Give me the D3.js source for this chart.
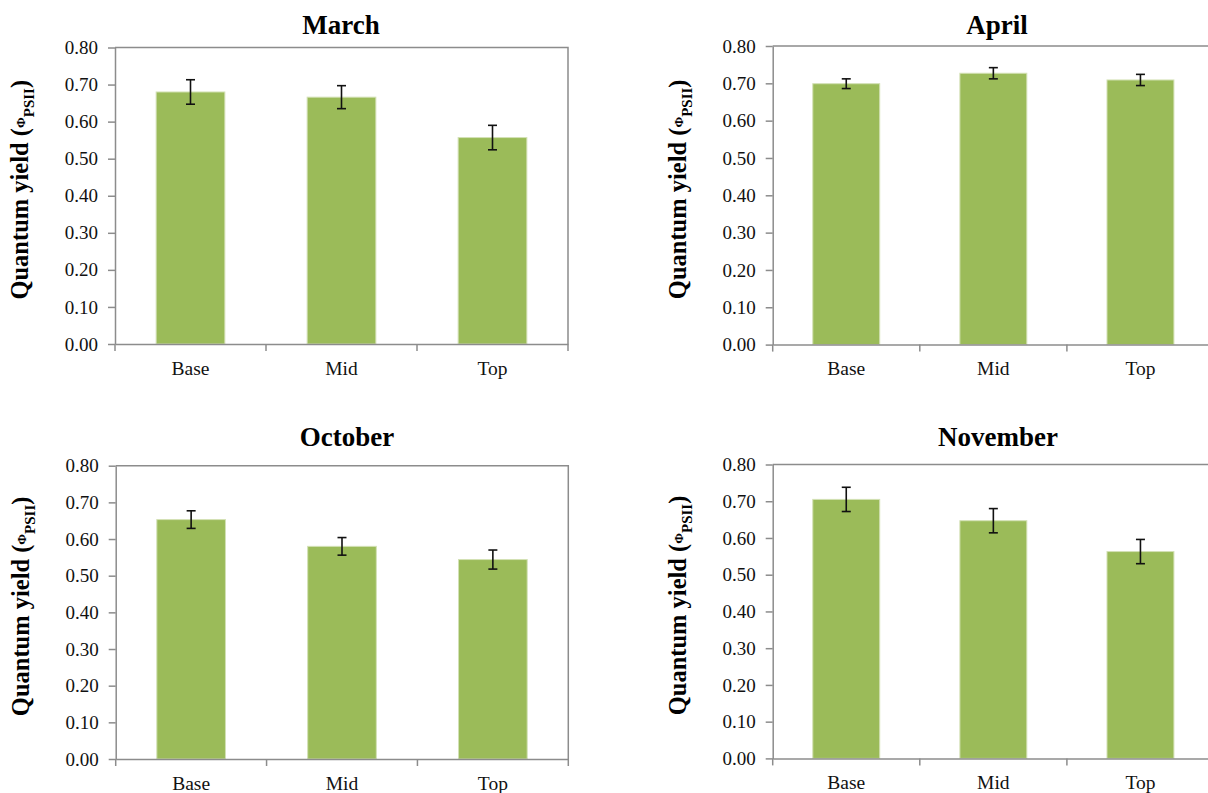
<!DOCTYPE html>
<html>
<head>
<meta charset="utf-8">
<script src="https://cdn.jsdelivr.net/npm/d3@7"></script>
<style>
  html, body { margin: 0; padding: 0; background: #ffffff; }
  svg { display: block; }
  text { font-family: "Liberation Serif", "Times New Roman", serif; }
</style>
</head>
<body>
<svg id="chart" width="1208" height="793"></svg>
<script>
// Canopy positions and monthly quantum yield (mean ± SE)
const categories = ["Base", "Mid", "Top"];
const months = ["March", "April", "October", "November"];

const marchMeans = [0.680, 0.666, 0.557];
const marchErrors = [0.033, 0.031, 0.033];

const aprilMeans = [0.699, 0.727, 0.709];
const aprilErrors = [0.013, 0.015, 0.015];

const octoberMeans = [0.653, 0.580, 0.544];
const octoberErrors = [0.024, 0.024, 0.026];

const novemberMeans = [0.705, 0.647, 0.563];
const novemberErrors = [0.033, 0.033, 0.033];

const yTicks = [0.0, 0.1, 0.2, 0.3, 0.4, 0.5, 0.6, 0.7, 0.8];

const seriesMeans = [marchMeans, aprilMeans, octoberMeans, novemberMeans];
const seriesErrors = [marchErrors, aprilErrors, octoberErrors, novemberErrors];

// Panel plot-area frames (pixels)
const frames = [
  { left: 115,   right: 568,  top: 47.5,  bottom: 344,   titleX: 341, titleY: 34 },
  { left: 772.7, right: 1214, top: 46,    bottom: 344.6, titleX: 997, titleY: 34 },
  { left: 115.7, right: 568.3, top: 465.7, bottom: 759,  titleX: 347, titleY: 446 },
  { left: 772.7, right: 1214, top: 464.5, bottom: 758.4, titleX: 998, titleY: 446 }
];

const serif = "'Liberation Serif', 'Times New Roman', serif";
const barColor = "#9bbb59";
const axisColor = "#8c8c8c";
const svg = d3.select("#chart");

months.forEach((month, i) => {
  const f = frames[i];
  const means = seriesMeans[i];
  const errs = seriesErrors[i];
  const rows = categories.map((c, k) => ({ cat: c, mean: means[k], err: errs[k] }));

  const x = d3.scaleBand().domain(categories).range([f.left, f.right]).padding(0);
  const y = d3.scaleLinear().domain([0, 0.8]).range([f.bottom, f.top]);
  const g = svg.append("g");

  // plot-area border (top and right)
  g.append("path")
    .attr("d", `M${f.left},${f.top}H${f.right}V${f.bottom}`)
    .attr("fill", "none").attr("stroke", axisColor).attr("stroke-width", 1.5);

  // bars
  const barW = x.bandwidth() * 0.455;
  g.selectAll("rect.bar").data(rows).join("rect")
    .attr("class", "bar")
    .attr("x", d => x(d.cat) + (x.bandwidth() - barW) / 2)
    .attr("width", barW)
    .attr("y", d => y(d.mean))
    .attr("height", d => y(0) - y(d.mean))
    .attr("fill", barColor)
    .attr("stroke", "#d3e1b5").attr("stroke-width", 1);

  // error bars
  const cap = 4.5;
  const eb = g.selectAll("g.err").data(rows).join("g").attr("class", "err")
    .attr("stroke", "#111").attr("stroke-width", 1.6);
  eb.append("line")
    .attr("x1", d => x(d.cat) + x.bandwidth() / 2).attr("x2", d => x(d.cat) + x.bandwidth() / 2)
    .attr("y1", d => y(d.mean + d.err)).attr("y2", d => y(d.mean - d.err));
  eb.append("line")
    .attr("x1", d => x(d.cat) + x.bandwidth() / 2 - cap).attr("x2", d => x(d.cat) + x.bandwidth() / 2 + cap)
    .attr("y1", d => y(d.mean + d.err)).attr("y2", d => y(d.mean + d.err));
  eb.append("line")
    .attr("x1", d => x(d.cat) + x.bandwidth() / 2 - cap).attr("x2", d => x(d.cat) + x.bandwidth() / 2 + cap)
    .attr("y1", d => y(d.mean - d.err)).attr("y2", d => y(d.mean - d.err));

  // y axis
  const yAxis = g.append("g")
    .attr("transform", `translate(${f.left},0)`)
    .call(d3.axisLeft(y).tickValues(yTicks).tickFormat(d3.format(".2f"))
      .tickSize(7).tickSizeOuter(0).tickPadding(10));
  yAxis.attr("font-family", null);
  yAxis.select(".domain").attr("stroke", axisColor).attr("stroke-width", 1.5);
  yAxis.selectAll(".tick line").attr("stroke", axisColor).attr("stroke-width", 1.5);
  yAxis.selectAll(".tick text")
    .style("font-family", serif)
    .style("font-size", "19px").attr("fill", "#111");

  // x axis: labels at band centres, tick marks at band boundaries
  const xAxis = g.append("g")
    .attr("transform", `translate(0,${f.bottom})`)
    .call(d3.axisBottom(x).tickSize(0).tickSizeOuter(0).tickPadding(17));
  xAxis.attr("font-family", null);
  xAxis.select(".domain").attr("stroke", axisColor).attr("stroke-width", 1.5);
  xAxis.selectAll(".tick text")
    .style("font-family", serif)
    .style("font-size", "19.5px").attr("fill", "#111");
  const bounds = categories.map(c => x(c)).concat([x.range()[1]]);
  g.selectAll("line.xb").data(bounds).join("line")
    .attr("class", "xb")
    .attr("x1", d => d).attr("x2", d => d)
    .attr("y1", f.bottom).attr("y2", f.bottom + 7)
    .attr("stroke", axisColor).attr("stroke-width", 1.5);

  // panel title
  g.append("text")
    .attr("x", f.titleX).attr("y", f.titleY)
    .attr("text-anchor", "middle")
    .style("font-family", serif)
    .attr("font-size", 27).attr("font-weight", "bold").attr("fill", "#000")
    .text(month);

  // y axis title
  const cy = (f.top + f.bottom) / 2 - 6;
  const cx = f.left - 87;
  const yt = g.append("text")
    .attr("transform", `translate(${cx},${cy}) rotate(-90)`)
    .attr("text-anchor", "middle")
    .style("font-family", serif)
    .attr("font-size", 24.5).attr("font-weight", "bold").attr("fill", "#000");
  yt.append("tspan").text("Quantum yield (");
  yt.append("tspan").attr("font-size", 13).attr("dy", -3).text("Φ");
  yt.append("tspan").attr("font-size", 15).attr("dy", 9).text("PSII");
  yt.append("tspan").attr("dy", -6).text(")");
});
</script>
</body>
</html>
